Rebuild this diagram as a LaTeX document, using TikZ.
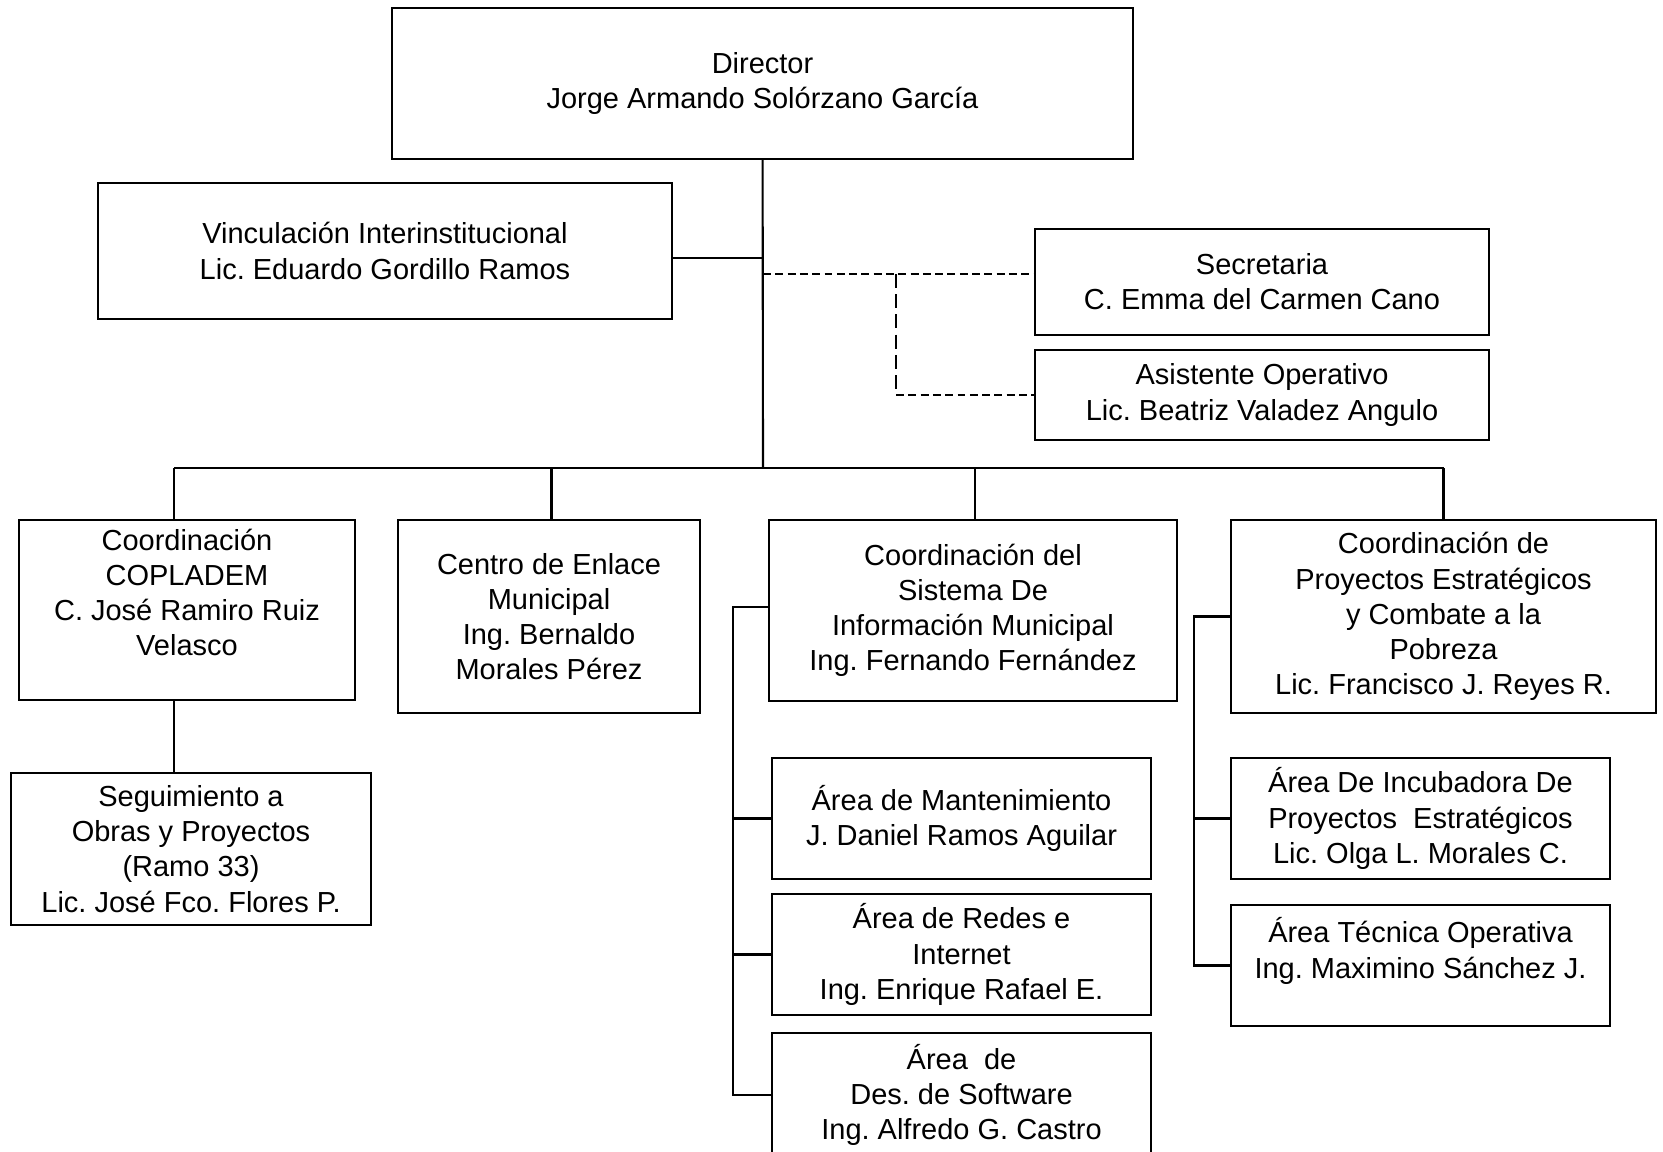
\documentclass[tikz,border=0pt]{standalone}
\usepackage{fontspec}
\setmainfont{Liberation Sans}
\frenchspacing
\tikzset{%
    orgbox/.style 2 args={%
        draw, line width=1.2pt, align=center, inner sep=0pt,
        minimum width=#1*0.02cm, minimum height=#2*0.02cm,
        font=\fontsize{16.5}{20}\selectfont,
        execute at begin node={\rule{0pt}{14pt}}
    },
    link/.style={line width=1.2pt},
    dashlink/.style={line width=1.2pt, dash pattern=on 4.5pt off 2.5pt},
    dashlinkv/.style={line width=1pt, dash pattern=on 8pt off 3.5pt}
}

\begin{document}
\begin{tikzpicture}[x=0.02cm,y=-0.02cm]
    \useasboundingbox (0,0) rectangle (1663,1152);
    % top level
    \node[orgbox={741}{151}] (dir) at (762.5,83.5) {Director\\Jorge Armando Solórzano García};
    \node[orgbox={574}{136}] (vinc) at (385,251) {Vinculación Interinstitucional\\Lic. Eduardo Gordillo Ramos};
    \node[orgbox={454}{106}] (sec) at (1262,282) {Secretaria\\C. Emma del Carmen Cano};
    \node[orgbox={454}{90}] (asis) at (1262,395) {Asistente Operativo\\Lic. Beatriz Valadez Angulo};
    % coordinaciones
    \node[orgbox={336}{180}] (cop) at (187,610) {Coordinación\\COPLADEM\\C. José Ramiro Ruiz\\Velasco\\ \mbox{}};
    \node[orgbox={302}{193}] (cen) at (549,616.5) {Centro de Enlace\\Municipal\\Ing. Bernaldo\\Morales Pérez};
    \node[orgbox={408}{181}] (sis) at (973,610.5) {Coordinación del\\Sistema De\\Información Municipal\\Ing. Fernando Fernández};
    \node[orgbox={425}{193}] (pro) at (1443.5,616.5) {Coordinación de\\Proyectos Estratégicos\\y Combate a la\\Pobreza\\Lic. Francisco J. Reyes R.};
    % areas
    \node[orgbox={360}{152}] (seg) at (191,849) {Seguimiento a\\Obras y Proyectos\\(Ramo 33)\\Lic. José Fco. Flores P.};
    \node[orgbox={379}{121}] (mant) at (961.5,818.5) {Área de Mantenimiento\\J. Daniel Ramos Aguilar};
    \node[orgbox={379}{121}] (red) at (961.5,954.5) {Área de Redes e\\Internet\\Ing. Enrique Rafael E.};
    \node[orgbox={379}{124}] (soft) at (961.5,1095) {Área\ \ de\\Des. de Software\\Ing. Alfredo G. Castro};
    \node[orgbox={379}{121}] (inc) at (1420.5,818.5) {Área De Incubadora De\\Proyectos\ \ Estratégicos\\Lic. Olga L. Morales C.};
    \node[orgbox={379}{121}] (tec) at (1420.5,965.5) {Área Técnica Operativa\\Ing. Maximino Sánchez J.\\ \mbox{}};

    \coordinate (bus) at (763,468);
    \coordinate (jv) at (763,258);
    \coordinate (js) at (763,274);
    \coordinate (jd) at (896,274);
    \coordinate (jc) at (174,468);
    \coordinate (je) at (551.5,468);
    \coordinate (ji) at (974.7,468);
    \coordinate (jp) at (1443.5,468);
    \coordinate (lsis) at (733,607);
    \coordinate (lpro) at (1194,616.5);

    \draw[link] (dir) -- (bus);
    \draw[link] (vinc.east |- jv) -- (jv);
    \draw[dashlink] (js) -- (sec.west |- js);
    \draw[dashlinkv] (jd) -- (jd |- asis.west);
    \draw[dashlink] (jd |- asis.west) -- (asis.west);
    \draw[link] (jc) -- (jp);
    \foreach \j/\b in {jc/cop,je/cen,ji/sis,jp/pro}
        \draw[link] (\j) -- (\j |- \b.north);
    \draw[link] (jc |- cop.south) -- (jc |- seg.north);
    % brackets
    \draw[link] (sis.west |- lsis) -- (lsis) |- (soft.west);
    \foreach \b in {mant,red}
        \draw[link] (lsis |- \b.west) -- (\b.west);
    \draw[link] (pro.west) -- (lpro) |- (tec.west);
    \draw[link] (lpro |- inc.west) -- (inc.west);
\end{tikzpicture}
\end{document}
